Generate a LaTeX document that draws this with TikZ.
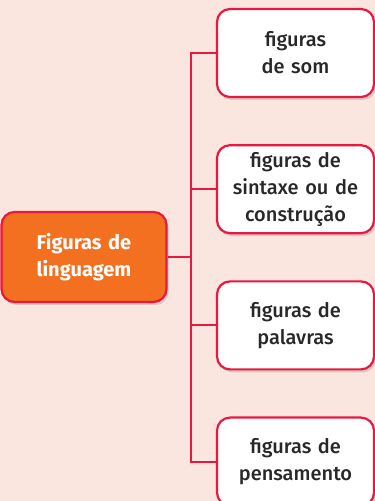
\documentclass[tikz,border=0pt]{standalone}
\usepackage{fontspec}
\setmainfont{Fira Sans}[UprightFont=* Medium, BoldFont=* Bold]
\usetikzlibrary{positioning,shadows}
\definecolor{bgpeach}{RGB}{251,230,223}
\definecolor{mapred}{RGB}{232,24,64}
\definecolor{maporange}{RGB}{243,112,33}
\definecolor{textgray}{RGB}{40,40,40}

\begin{document}
\begin{tikzpicture}[
            x=1pt, y=1pt,
            node distance=46pt,
            topic/.style={rectangle, draw=mapred, line width=2.2pt, rounded corners=13pt, fill=white, minimum width=157pt, minimum height=88pt, text width=145pt, inner sep=4pt, align=center, text=textgray, font=\fontsize{20}{27}\selectfont, drop shadow={shadow xshift=2pt, shadow yshift=-3pt, opacity=0.3}},
            main/.style={topic, fill=maporange, minimum width=165pt, minimum height=90pt, text width=155pt, text=white, font=\fontsize{20}{27}\selectfont\bfseries},
            link/.style={draw=mapred, line width=2pt}
            ]

            % Background
            \useasboundingbox (0,0) rectangle (375,501);
            \clip (0,0) rectangle (375,501);
            \fill[bgpeach] (0,0) rectangle (375,501);

            % Main topic
            \node[main] (linguagem) at (84,244) {Figuras de\\linguagem};

            % Branches
            \node[topic] (som) at (295.5,448) {figuras\\de som};
            \node[topic, below=of som] (sintaxe) {figuras de\\sintaxe ou de\\construção};
            \node[topic, below=of sintaxe] (palavras) {figuras de\\palavras};
            \node[topic, below=of palavras] (pensamento) {figuras de\\pensamento};

            % Connectors
            \draw[link] (linguagem.east) -- ++(23,0) |- (som.west);
            \draw[link] (linguagem.east) -- ++(23,0) |- (sintaxe.west);
            \draw[link] (linguagem.east) -- ++(23,0) |- (palavras.west);
            \draw[link] (linguagem.east) -- ++(23,0) |- (pensamento.west);

        \end{tikzpicture}
\end{document}
